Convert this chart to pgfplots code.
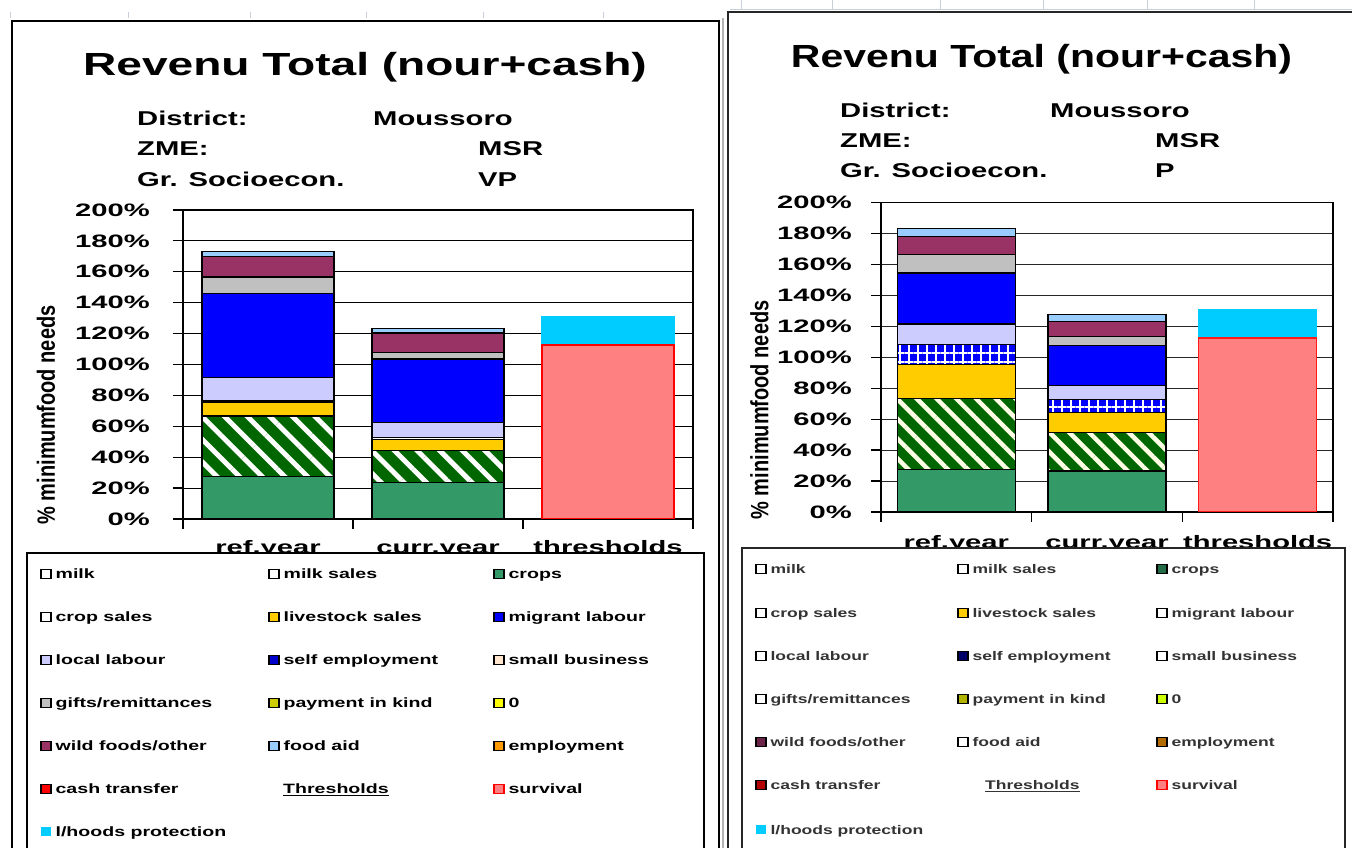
\documentclass[border=0pt]{standalone}
\usepackage{fontspec}
\setmainfont{Liberation Sans}
\usepackage{graphicx}
\usepackage{pgfplots}
\pgfplotsset{compat=1.18}
\usetikzlibrary{patterns.meta}

\definecolor{crops}{HTML}{339966}
\definecolor{hatchg}{HTML}{006600}
\definecolor{livest}{HTML}{FFCC00}
\definecolor{locall}{HTML}{CCCCFF}
\definecolor{selfemp}{HTML}{0000FF}
\definecolor{gifts}{HTML}{C0C0C0}
\definecolor{wild}{HTML}{993366}
\definecolor{foodaid}{HTML}{99CCFF}
\definecolor{surv}{HTML}{FF8080}
\definecolor{lhood}{HTML}{00CCFF}
\definecolor{smallb}{HTML}{FFE6CC}
\definecolor{zero}{HTML}{FFFF00}
\definecolor{employ}{HTML}{FF9900}
\definecolor{topgray}{HTML}{C8D0DC}

\newcommand{\T}[3]{\scalebox{#2}[1]{\fontsize{#1}{#1}\selectfont\bfseries #3}}
\newcommand{\XL}[1]{\T{18}{1.62}{\vphantom{fhy}#1}}

% legend entry: x y style text size hscale
\newcommand{\LegE}[6]{%
  \path[#3] (#1,#2-4.5) rectangle ++(10,9);
  \node[anchor=base west, inner sep=0pt] at (#1+14,#2-5) {\T{#5}{#6}{#4}};}

\pgfplotsset{
  panel/.style={
    scale only axis, ybar stacked,
    xmin=-0.5, xmax=2.5, ymin=0, ymax=200,
    xtick={-0.5,0.5,1.5,2.5}, x tick label as interval,
    ytick={0,20,...,200},
    yticklabels={\T{18}{1.62}{0\%},\T{18}{1.62}{20\%},\T{18}{1.62}{40\%},\T{18}{1.62}{60\%},\T{18}{1.62}{80\%},\T{18}{1.62}{100\%},\T{18}{1.62}{120\%},\T{18}{1.62}{140\%},\T{18}{1.62}{160\%},\T{18}{1.62}{180\%},\T{18}{1.62}{200\%}},
    xticklabels={\XL{ref.year},\XL{curr.year},\XL{thresholds}},
    tick align=outside, tick pos=left, major tick length=10pt,
    ymajorgrids, grid style={black, line width=1pt},
    axis line style={black, line width=1.5pt},
    tick style={black, line width=1.2pt},
    yticklabel style={anchor=east, inner sep=0pt},
    xticklabel style={anchor=north, inner sep=0pt},
    ylabel={\scalebox{1}[1.25]{\fontsize{20}{20}\selectfont\bfseries \% minimumfood needs}},
  },
  thr/.style={scale only axis, ybar stacked, hide axis,
    xmin=-0.5, xmax=2.5, ymin=0, ymax=200},
  seg/.style={draw=black, line width=1.4pt, fill=#1},
}

\begin{document}
\begin{tikzpicture}[x=1pt,y=1pt]
\useasboundingbox (0,0) rectangle (1352,848);
\fill[white] (0,0) rectangle (1352,848);

% ---------- top decorations ----------
\foreach \xx in {10,128,250,366,483,603} \draw[topgray, line width=1pt] (\xx,830) -- (\xx,836);
\foreach \xx in {741,832,940,1043,1147,1254} \draw[topgray, line width=1pt] (\xx,838) -- (\xx,848);
\draw[topgray, line width=1pt] (730,838) -- (1352,838);

% ---------- LEFT PANEL ----------
\begin{axis}[panel, at={(183pt,329pt)}, anchor=south west, width=510pt, height=309pt,
  bar width=132pt,
  yticklabel style={xshift=-23pt},
  xticklabel style={yshift=-11pt},
  ylabel style={at={(axis description cs:-0.2686,0.3366)}, anchor=center}]
\addplot[seg=crops] coordinates {(0,27.5) (1,23.6)};
\addplot[draw=black, line width=1.4pt, preaction={fill=hatchg},
  pattern={Lines[angle=-45,distance=16pt,line width=5pt]}, pattern color=white]
  coordinates {(0,39.2) (1,20.7)};
\addplot[seg=livest] coordinates {(0,9.0) (1,7.1)};
\addplot[draw=black, line width=1.4pt, preaction={fill=selfemp},
  pattern={Hatch[angle=0,distance=10pt,line width=2pt]}, pattern color=white]
  coordinates {(0,1.1) (1,1.5)};
\addplot[seg=locall] coordinates {(0,14.7) (1,9.4)};
\addplot[seg=selfemp] coordinates {(0,54.3) (1,41.2)};
\addplot[seg=gifts] coordinates {(0,10.8) (1,4.3)};
\addplot[seg=wild] coordinates {(0,13.4) (1,12.6)};
\addplot[seg=foodaid] coordinates {(0,3.3) (1,3.0)};
\end{axis}
\begin{axis}[thr, at={(183pt,329pt)}, anchor=south west, width=510pt, height=309pt, bar width=132pt]
\addplot[fill=surv, draw=red, line width=1.5pt] coordinates {(2,112.6)};
\addplot[fill=lhood, draw=lhood, line width=1.5pt] coordinates {(2,18.0)};
\end{axis}

% titles left
\node[anchor=base, inner sep=0pt] at (365,772) {\T{32}{1.44}{Revenu Total (nour+cash)}};
\node[anchor=base west, inner sep=0pt] at (137,722) {\T{20}{1.46}{District:}};
\node[anchor=base west, inner sep=0pt] at (373,722) {\T{20}{1.46}{Moussoro}};
\node[anchor=base west, inner sep=0pt] at (137,692) {\T{20}{1.46}{ZME:}};
\node[anchor=base west, inner sep=0pt] at (478,692) {\T{20}{1.46}{MSR}};
\node[anchor=base west, inner sep=0pt] at (137,661) {\T{20}{1.46}{Gr. Socioecon.}};
\node[anchor=base west, inner sep=0pt] at (478,661) {\T{20}{1.46}{VP}};

% legend left
\draw[black, line width=1.5pt, fill=white] (27,-5) -- (27,295) -- (704,295) -- (704,-5);
\begin{scope}[line width=1.2pt]
\LegE{41}{274}{draw=black, fill=white}{milk}{13.5}{1.45}
\LegE{269}{274}{draw=black, fill=white}{milk sales}{13.5}{1.45}
\LegE{494}{274}{draw=black, fill=crops}{crops}{13.5}{1.45}
\LegE{41}{231}{draw=black, fill=white}{crop sales}{13.5}{1.45}
\LegE{269}{231}{draw=black, fill=livest}{livestock sales}{13.5}{1.45}
\LegE{494}{231}{draw=black, fill=selfemp}{migrant labour}{13.5}{1.45}
\LegE{41}{188}{draw=black, fill=locall}{local labour}{13.5}{1.45}
\LegE{269}{188}{draw=black, fill=blue!80!black}{self employment}{13.5}{1.45}
\LegE{494}{188}{draw=black, fill=smallb}{small business}{13.5}{1.45}
\LegE{41}{145}{draw=black, fill=gifts}{gifts/remittances}{13.5}{1.45}
\LegE{269}{145}{draw=black, fill=zero!80!black}{payment in kind}{13.5}{1.45}
\LegE{494}{145}{draw=black, fill=zero}{0}{13.5}{1.45}
\LegE{41}{102}{draw=black, fill=wild}{wild foods/other}{13.5}{1.45}
\LegE{269}{102}{draw=black, fill=foodaid}{food aid}{13.5}{1.45}
\LegE{494}{102}{draw=black, fill=employ}{employment}{13.5}{1.45}
\LegE{41}{59}{draw=black, fill=red}{cash transfer}{13.5}{1.45}
\LegE{494}{59}{draw=red, fill=surv}{survival}{13.5}{1.45}
\LegE{41}{16}{fill=lhood}{l/hoods protection}{13.5}{1.45}
\end{scope}
\node[anchor=base west, inner sep=0pt] at (283,54) {\T{13.5}{1.45}{\underline{Thresholds}}};

% ---------- RIGHT PANEL ----------
\begin{axis}[panel, at={(881pt,336pt)}, anchor=south west, width=452pt, height=309.5pt,
  bar width=118pt,
  yticklabel style={xshift=-19pt},
  xticklabel style={yshift=-13pt},
  ylabel style={at={(axis description cs:-0.2688,0.3296)}, anchor=center},
  grid style={black!85, line width=1pt}]
\addplot[seg=crops, line width=1.2pt] coordinates {(0,27.5) (1,26.5)};
\addplot[draw=black, line width=1.2pt, preaction={fill=hatchg},
  pattern={Lines[angle=-45,distance=14pt,line width=4.5pt]}, pattern color=yellow!10]
  coordinates {(0,45.6) (1,24.7)};
\addplot[seg=livest, line width=1.2pt] coordinates {(0,22.2) (1,12.9)};
\addplot[draw=black, line width=1.2pt, preaction={fill=selfemp},
  pattern={Hatch[angle=0,distance=9pt,line width=2pt]}, pattern color=white]
  coordinates {(0,12.9) (1,8.6)};
\addplot[seg=locall, line width=1.2pt] coordinates {(0,13.3) (1,9.2)};
\addplot[seg=selfemp, line width=1.2pt] coordinates {(0,32.9) (1,25.6)};
\addplot[seg=gifts, line width=1.2pt] coordinates {(0,11.8) (1,6.0)};
\addplot[seg=wild, line width=1.2pt] coordinates {(0,11.9) (1,9.7)};
\addplot[seg=foodaid, line width=1.2pt] coordinates {(0,4.9) (1,4.3)};
\end{axis}
\begin{axis}[thr, at={(881pt,336pt)}, anchor=south west, width=452pt, height=309.5pt, bar width=118pt]
\addplot[fill=surv, draw=red!90!white, line width=1.5pt] coordinates {(2,112.5)};
\addplot[fill=lhood, draw=lhood, line width=1.5pt] coordinates {(2,18.3)};
\end{axis}

% titles right
\node[anchor=base, inner sep=0pt] at (1041.5,780) {\T{32}{1.28}{Revenu Total (nour+cash)}};
\node[anchor=base west, inner sep=0pt] at (840,730) {\T{20}{1.46}{District:}};
\node[anchor=base west, inner sep=0pt] at (1050,730) {\T{20}{1.46}{Moussoro}};
\node[anchor=base west, inner sep=0pt] at (840,700) {\T{20}{1.46}{ZME:}};
\node[anchor=base west, inner sep=0pt] at (1155,700) {\T{20}{1.46}{MSR}};
\node[anchor=base west, inner sep=0pt] at (840,670) {\T{20}{1.46}{Gr. Socioecon.}};
\node[anchor=base west, inner sep=0pt] at (1155,670) {\T{20}{1.46}{P}};

% legend right
\draw[black!85, line width=1.5pt, fill=white] (742,-5) -- (742,300) -- (1345,300) -- (1345,-5);
\begin{scope}[line width=1.2pt, every node/.append style={text=black!80}]
\LegE{756}{279}{draw=black, fill=white}{milk}{12.5}{1.4}
\LegE{958}{279}{draw=black, fill=white}{milk sales}{12.5}{1.4}
\LegE{1157}{279}{draw=black, fill=crops!70!black}{crops}{12.5}{1.4}
\LegE{756}{235}{draw=black, fill=white}{crop sales}{12.5}{1.4}
\LegE{958}{235}{draw=black, fill=livest}{livestock sales}{12.5}{1.4}
\LegE{1157}{235}{draw=black, fill=white}{migrant labour}{12.5}{1.4}
\LegE{756}{192}{draw=black, fill=white}{local labour}{12.5}{1.4}
\LegE{958}{192}{draw=black, fill=blue!40!black}{self employment}{12.5}{1.4}
\LegE{1157}{192}{draw=black, fill=white}{small business}{12.5}{1.4}
\LegE{756}{149}{draw=black, fill=white}{gifts/remittances}{12.5}{1.4}
\LegE{958}{149}{draw=black, fill=zero!70!black}{payment in kind}{12.5}{1.4}
\LegE{1157}{149}{draw=black, fill=zero!80!green}{0}{12.5}{1.4}
\LegE{756}{106}{draw=black, fill=wild!70!black}{wild foods/other}{12.5}{1.4}
\LegE{958}{106}{draw=black, fill=white}{food aid}{12.5}{1.4}
\LegE{1157}{106}{draw=black, fill=employ!70!black}{employment}{12.5}{1.4}
\LegE{756}{63}{draw=black, fill=red!70!black}{cash transfer}{12.5}{1.4}
\LegE{1157}{63}{draw=red, fill=surv}{survival}{12.5}{1.4}
\LegE{756}{18}{fill=lhood}{l/hoods protection}{12.5}{1.4}
\end{scope}
\node[anchor=base west, inner sep=0pt, text=black!80] at (985,58) {\T{12.5}{1.4}{\underline{Thresholds}}};

% ---------- frames ----------
\draw[line width=2pt, black] (12,-5) -- (12,827.3) -- (719,827.3) -- (719,-5);
\draw[line width=1.2pt, gray!60] (723,-5) -- (723,830);
\draw[line width=2pt, black!85] (728,-5) -- (728,835.5) -- (1357,835.5);
\end{tikzpicture}
\end{document}
